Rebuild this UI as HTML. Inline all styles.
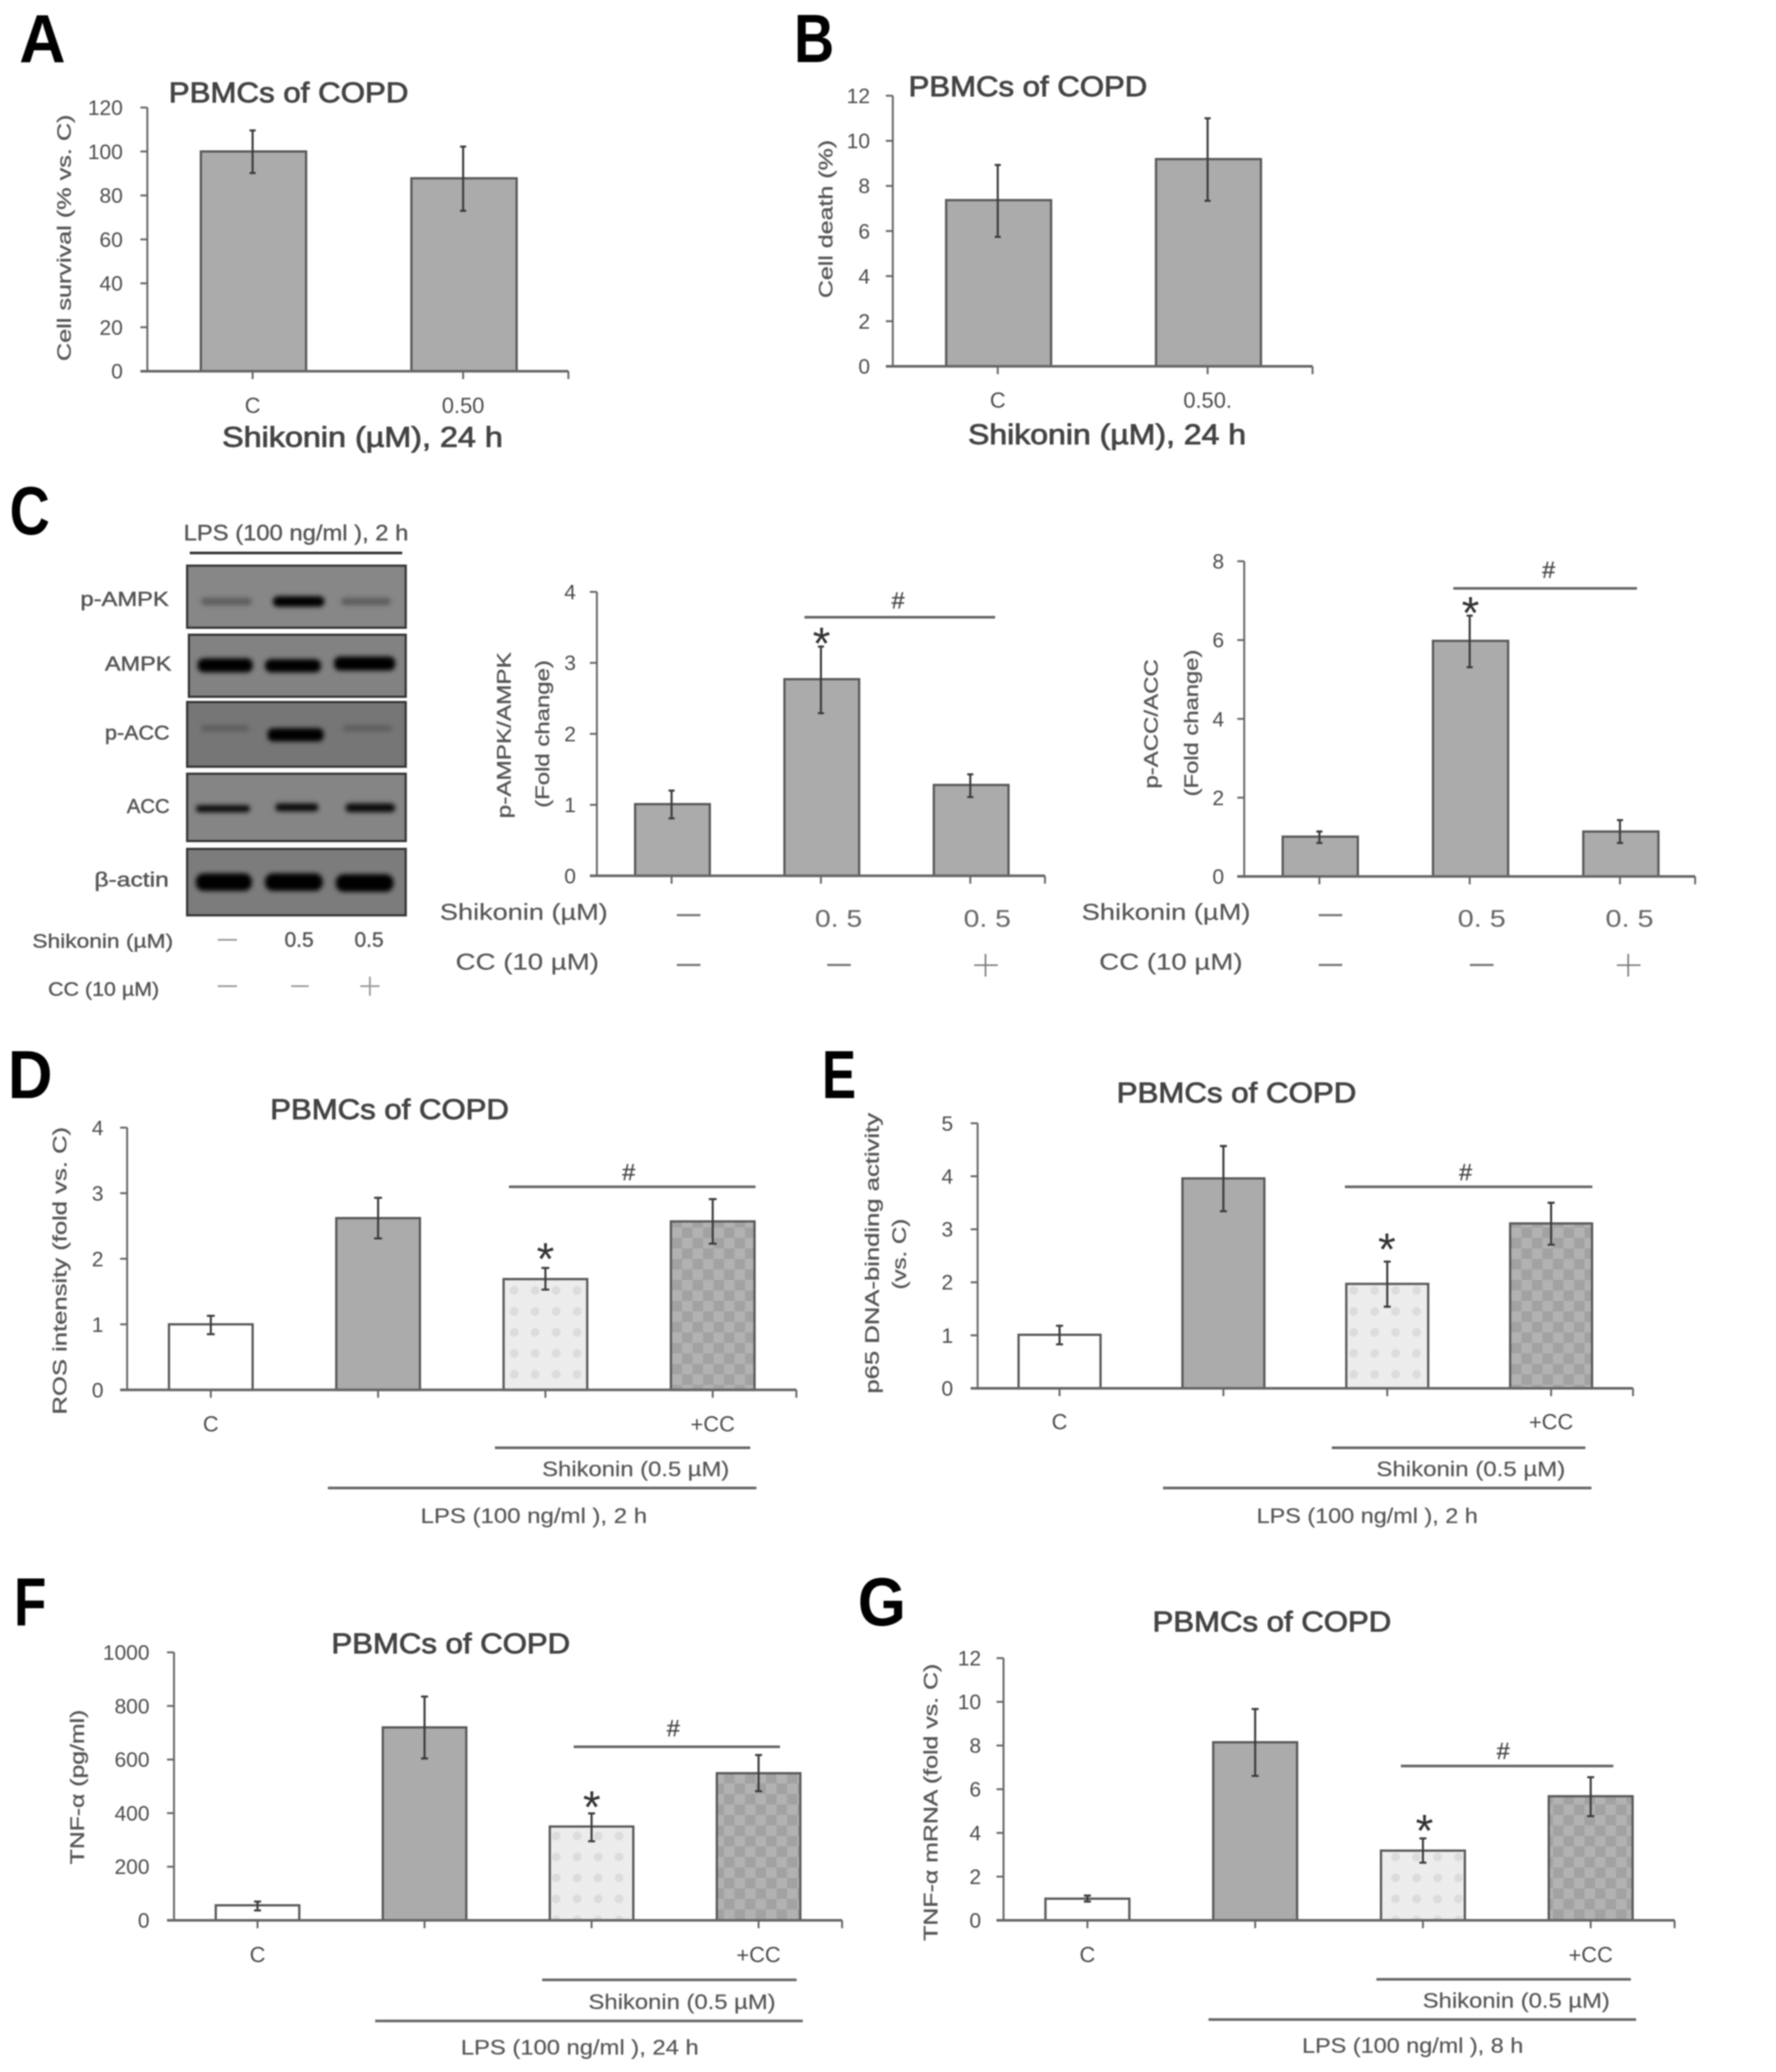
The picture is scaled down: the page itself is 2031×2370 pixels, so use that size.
<!DOCTYPE html>
<html lang="en">
<head>
<meta charset="utf-8">
<title>Shikonin effects on PBMCs of COPD</title>
<style>
html,body{margin:0;padding:0;background:#fff;}
#figure{display:block;width:2031px;height:2370px;filter:blur(.85px);font-family:"Liberation Sans",sans-serif;}
.letter{font-weight:bold;fill:#000;}
.title{font-size:32px;fill:#444;stroke:#444;stroke-width:.9px;}
.ytitle{font-size:22px;fill:#555;stroke:#555;stroke-width:.35px;}
.xtitle{font-size:32px;fill:#444;stroke:#444;stroke-width:.9px;}
.anno{font-size:24px;fill:#555;stroke:#555;stroke-width:.2px;}
.blotlab{font-size:23px;fill:#555;stroke:#555;stroke-width:.5px;}
.row{font-size:26px;fill:#555;stroke:#555;stroke-width:.2px;}
.num{font-size:28px;fill:#666;}
.band{filter:blur(2.6px);}
</style>
</head>
<body>
<svg id="figure" xmlns="http://www.w3.org/2000/svg" viewBox="0 0 2031 2370" width="2031" height="2370">
<defs>
<pattern id="dither" patternUnits="userSpaceOnUse" width="4" height="4">
<rect width="4" height="4" fill="#f2f2f2"/>
<rect width="2" height="2" fill="#e6e6e6"/>
<rect x="2" y="2" width="2" height="2" fill="#e6e6e6"/>
</pattern>
<pattern id="lightFill" patternUnits="userSpaceOnUse" width="24" height="24">
<rect width="24" height="24" fill="url(#dither)"/>
<rect x="7" y="7" width="10" height="10" rx="5" fill="#dcdcdc"/>
</pattern>
<pattern id="darkFill" patternUnits="userSpaceOnUse" width="24" height="24">
<rect width="24" height="24" fill="#b2b2b2"/>
<rect width="12" height="12" fill="#a2a2a2"/>
<rect x="12" y="12" width="12" height="12" fill="#a2a2a2"/>
</pattern>
</defs>
<rect width="2031" height="2370" fill="#fff"/>

<!-- panel letters -->
<text class="letter" x="22" y="71" font-size="78" textLength="53" lengthAdjust="spacingAndGlyphs">A</text>
<text class="letter" x="908" y="71" font-size="78" textLength="46" lengthAdjust="spacingAndGlyphs">B</text>
<text class="letter" x="11" y="611" font-size="78" textLength="46" lengthAdjust="spacingAndGlyphs">C</text>
<text class="letter" x="9" y="1256" font-size="78" textLength="51" lengthAdjust="spacingAndGlyphs">D</text>
<text class="letter" x="940" y="1256" font-size="78" textLength="39" lengthAdjust="spacingAndGlyphs">E</text>
<text class="letter" x="16" y="1859" font-size="78" textLength="37" lengthAdjust="spacingAndGlyphs">F</text>
<text class="letter" x="981" y="1859" font-size="78" textLength="55" lengthAdjust="spacingAndGlyphs">G</text>

<!-- chart titles -->
<text class="title" x="193" y="117" textLength="274" lengthAdjust="spacingAndGlyphs">PBMCs of COPD</text>
<text class="title" x="1039" y="110" textLength="273" lengthAdjust="spacingAndGlyphs">PBMCs of COPD</text>
<text class="title" x="309" y="1280" textLength="273" lengthAdjust="spacingAndGlyphs">PBMCs of COPD</text>
<text class="title" x="1277" y="1261" textLength="274" lengthAdjust="spacingAndGlyphs">PBMCs of COPD</text>
<text class="title" x="379" y="1891" textLength="273" lengthAdjust="spacingAndGlyphs">PBMCs of COPD</text>
<text class="title" x="1318" y="1866" textLength="273" lengthAdjust="spacingAndGlyphs">PBMCs of COPD</text>

<!-- y axis titles -->
<text class="ytitle" transform="translate(81,413) rotate(-90)" textLength="282" lengthAdjust="spacingAndGlyphs">Cell survival (% vs. C)</text>
<text class="ytitle" transform="translate(952,341) rotate(-90)" textLength="181" lengthAdjust="spacingAndGlyphs">Cell death (%)</text>
<text class="ytitle" transform="translate(584,936) rotate(-90)" textLength="190" lengthAdjust="spacingAndGlyphs">p-AMPK/AMPK</text>
<text class="ytitle" transform="translate(628,924) rotate(-90)" textLength="169" lengthAdjust="spacingAndGlyphs">(Fold change)</text>
<text class="ytitle" transform="translate(1324,902) rotate(-90)" textLength="148" lengthAdjust="spacingAndGlyphs">p-ACC/ACC</text>
<text class="ytitle" transform="translate(1370,911) rotate(-90)" textLength="168" lengthAdjust="spacingAndGlyphs">(Fold change)</text>
<text class="ytitle" transform="translate(76,1618) rotate(-90)" textLength="329" lengthAdjust="spacingAndGlyphs">ROS intensity (fold vs. C)</text>
<text class="ytitle" transform="translate(1005,1594) rotate(-90)" textLength="321" lengthAdjust="spacingAndGlyphs">p65 DNA-binding activity</text>
<text class="ytitle" transform="translate(1036,1475) rotate(-90)" textLength="81" lengthAdjust="spacingAndGlyphs">(vs. C)</text>
<text class="ytitle" transform="translate(96,2132.5) rotate(-90)" textLength="177" lengthAdjust="spacingAndGlyphs">TNF-α (pg/ml)</text>
<text class="ytitle" transform="translate(1072,2220) rotate(-90)" textLength="317" lengthAdjust="spacingAndGlyphs">TNF-α mRNA (fold vs. C)</text>

<!-- x titles A, B -->
<text class="xtitle" x="254" y="511" textLength="321" lengthAdjust="spacingAndGlyphs">Shikonin (µM), 24 h</text>
<text class="xtitle" x="1107" y="508" textLength="318" lengthAdjust="spacingAndGlyphs">Shikonin (µM), 24 h</text>

<!-- western blot -->
<g>
<text x="210" y="618" font-size="25" fill="#555" stroke="#555" stroke-width=".4" textLength="257" lengthAdjust="spacingAndGlyphs">LPS (100 ng/ml ), 2 h</text>
<line x1="217" x2="460" y1="632.5" y2="632.5" stroke="#333" stroke-width="3"/>

<rect x="214" y="647" width="250" height="71" fill="#878787" stroke="#333" stroke-width="2.5"/>
<rect x="216" y="726" width="248" height="71" fill="#828282" stroke="#333" stroke-width="2.5"/>
<rect x="214" y="803" width="250" height="74" fill="#767676" stroke="#333" stroke-width="2.5"/>
<rect x="214" y="885" width="250" height="77" fill="#858585" stroke="#333" stroke-width="2.5"/>
<rect x="214" y="971" width="250" height="76" fill="#7c7c7c" stroke="#333" stroke-width="2.5"/>

<g class="band">
<rect x="230" y="684" width="58" height="8" rx="4" fill="#5c5c5c"/>
<rect x="312" y="682" width="59" height="12" rx="6" fill="#000"/>
<rect x="390" y="684" width="57" height="8" rx="4" fill="#5c5c5c"/>
<rect x="226" y="753" width="63" height="16" rx="7" fill="#000"/>
<rect x="303" y="754" width="64" height="15" rx="7" fill="#000"/>
<rect x="382" y="751" width="70" height="16" rx="7" fill="#000"/>
<rect x="230" y="830" width="55" height="6" rx="3" fill="#5a5a5a"/>
<rect x="306" y="833" width="64" height="15" rx="6" fill="#000"/>
<rect x="392" y="830" width="56" height="6" rx="3" fill="#5a5a5a"/>
<rect x="224" y="921" width="62" height="8" rx="4" fill="#0a0a0a"/>
<rect x="315" y="919" width="49" height="9" rx="4" fill="#0a0a0a"/>
<rect x="395" y="919" width="57" height="10" rx="5" fill="#0a0a0a"/>
<rect x="224" y="999" width="64" height="20" rx="9" fill="#000"/>
<rect x="303" y="999" width="66" height="20" rx="9" fill="#000"/>
<rect x="384" y="1000" width="66" height="20" rx="9" fill="#000"/>
</g>

<text class="blotlab" x="92" y="693" textLength="101" lengthAdjust="spacingAndGlyphs">p-AMPK</text>
<text class="blotlab" x="120" y="767" textLength="76" lengthAdjust="spacingAndGlyphs">AMPK</text>
<text class="blotlab" x="120" y="846" textLength="74" lengthAdjust="spacingAndGlyphs">p-ACC</text>
<text class="blotlab" x="145" y="930" textLength="49" lengthAdjust="spacingAndGlyphs">ACC</text>
<text class="blotlab" x="108" y="1014" textLength="85" lengthAdjust="spacingAndGlyphs">β-actin</text>

<text x="37" y="1084" font-size="22" fill="#555" stroke="#555" stroke-width=".4" textLength="161" lengthAdjust="spacingAndGlyphs">Shikonin (µM)</text>
<text x="55" y="1139" font-size="22" fill="#555" stroke="#555" stroke-width=".4" textLength="127" lengthAdjust="spacingAndGlyphs">CC (10 µM)</text>
<line x1="249" x2="271" y1="1075" y2="1075" stroke="#999" stroke-width="2"/>
<text x="342" y="1083" font-size="24" fill="#555" stroke="#555" stroke-width=".4" text-anchor="middle">0.5</text>
<text x="422" y="1083" font-size="24" fill="#555" stroke="#555" stroke-width=".4" text-anchor="middle">0.5</text>
<line x1="249" x2="271" y1="1128" y2="1128" stroke="#999" stroke-width="2"/>
<line x1="333" x2="353" y1="1128" y2="1128" stroke="#999" stroke-width="2"/>
<path d="M412 1128H434M423 1117V1139" stroke="#999" stroke-width="2" fill="none"/>
</g>

<!-- C chart treatment rows -->
<g>
<text class="row" x="503" y="1052" textLength="192" lengthAdjust="spacingAndGlyphs">Shikonin (µM)</text>
<text class="row" x="521" y="1109" textLength="164" lengthAdjust="spacingAndGlyphs">CC (10 µM)</text>
<rect x="774" y="1045.5" width="27" height="2.5" fill="#777"/>
<text class="num" x="932" y="1060" textLength="54" lengthAdjust="spacingAndGlyphs">0. 5</text>
<text class="num" x="1102" y="1060" textLength="54" lengthAdjust="spacingAndGlyphs">0. 5</text>
<rect x="774" y="1102.5" width="27" height="2.5" fill="#777"/>
<rect x="946" y="1102.5" width="27" height="2.5" fill="#777"/>
<path d="M1114 1104H1141M1127 1091V1117" stroke="#777" stroke-width="1.8" fill="none"/>
</g>
<g>
<text class="row" x="1237" y="1052" textLength="193" lengthAdjust="spacingAndGlyphs">Shikonin (µM)</text>
<text class="row" x="1257" y="1109" textLength="164" lengthAdjust="spacingAndGlyphs">CC (10 µM)</text>
<rect x="1508" y="1045.5" width="27" height="2.5" fill="#777"/>
<text class="num" x="1667" y="1060" textLength="55" lengthAdjust="spacingAndGlyphs">0. 5</text>
<text class="num" x="1836" y="1060" textLength="55" lengthAdjust="spacingAndGlyphs">0. 5</text>
<rect x="1508" y="1102.5" width="27" height="2.5" fill="#777"/>
<rect x="1681" y="1102.5" width="27" height="2.5" fill="#777"/>
<path d="M1849 1104H1876M1862 1091V1117" stroke="#777" stroke-width="1.8" fill="none"/>
</g>

<!-- D, E, F, G treatment lines -->
<g stroke="#666" stroke-width="3">
<line x1="566" x2="858" y1="1656" y2="1656"/>
<line x1="375" x2="865" y1="1702" y2="1702"/>
<line x1="1523" x2="1813" y1="1656" y2="1656"/>
<line x1="1330" x2="1820" y1="1702" y2="1702"/>
<line x1="620" x2="911" y1="2264.6" y2="2264.6"/>
<line x1="429" x2="918" y1="2311.6" y2="2311.6"/>
<line x1="1574" x2="1865" y1="2264" y2="2264"/>
<line x1="1382" x2="1871" y1="2310" y2="2310"/>
</g>
<text class="anno" x="620" y="1688.5" textLength="214" lengthAdjust="spacingAndGlyphs">Shikonin (0.5 µM)</text>
<text class="anno" x="481" y="1742" textLength="259" lengthAdjust="spacingAndGlyphs">LPS (100 ng/ml ), 2 h</text>
<text class="anno" x="1574" y="1688.5" textLength="216" lengthAdjust="spacingAndGlyphs">Shikonin (0.5 µM)</text>
<text class="anno" x="1437" y="1742" textLength="253" lengthAdjust="spacingAndGlyphs">LPS (100 ng/ml ), 2 h</text>
<text class="anno" x="673" y="2298" textLength="214" lengthAdjust="spacingAndGlyphs">Shikonin (0.5 µM)</text>
<text class="anno" x="527" y="2350" textLength="272" lengthAdjust="spacingAndGlyphs">LPS (100 ng/ml ), 24 h</text>
<text class="anno" x="1627" y="2296.6" textLength="214" lengthAdjust="spacingAndGlyphs">Shikonin (0.5 µM)</text>
<text class="anno" x="1489" y="2348" textLength="253" lengthAdjust="spacingAndGlyphs">LPS (100 ng/ml ), 8 h</text>

<!-- significance brackets and symbols -->
<g stroke="#666" stroke-width="3">
<line x1="920" x2="1138" y1="706" y2="706"/>
<line x1="1662" x2="1872" y1="673" y2="673"/>
<line x1="582" x2="864" y1="1357.5" y2="1357.5"/>
<line x1="1538" x2="1821" y1="1357.5" y2="1357.5"/>
<line x1="656" x2="892" y1="1998" y2="1998"/>
<line x1="1602" x2="1845" y1="2020" y2="2020"/>
</g>
<g font-size="27" fill="#444" stroke="#444" stroke-width=".3" text-anchor="middle">
<text x="1027" y="696">#</text>
<text x="1771" y="661">#</text>
<text x="719" y="1350">#</text>
<text x="1676" y="1350">#</text>
<text x="770" y="1986">#</text>
<text x="1719" y="2012">#</text>
</g>
<g font-size="52" fill="#333" text-anchor="middle">
<text x="939.5" y="754">*</text>
<text x="1681.6" y="719">*</text>
<text x="623.7" y="1458">*</text>
<text x="1586" y="1447">*</text>
<text x="676.7" y="2085">*</text>
<text x="1629" y="2112">*</text>
</g>

<g id="charts"></g>
</svg>

<script>
// Panel A
const categoriesA = ['C', '0.50'];
const valuesA = [100, 87.8];
const upperA = [109.6, 102.2];
const lowerA = [90.2, 73];
const ticksA = [0, 20, 40, 60, 80, 100, 120];
// Panel B
const categoriesB = ['C', '0.50.'];
const valuesB = [7.37, 9.19];
const upperB = [8.93, 11.0];
const lowerB = [5.74, 7.34];
const ticksB = [0, 2, 4, 6, 8, 10, 12];
// Panel C, p-AMPK/AMPK
const categoriesC1 = ['', '', ''];
const valuesC1 = [1.01, 2.77, 1.28];
const upperC1 = [1.2, 3.23, 1.43];
const lowerC1 = [0.81, 2.29, 1.11];
const ticksC1 = [0, 1, 2, 3, 4];
// Panel C, p-ACC/ACC
const categoriesC2 = ['', '', ''];
const valuesC2 = [1.01, 5.98, 1.14];
const upperC2 = [1.14, 6.62, 1.43];
const lowerC2 = [0.85, 5.31, 0.85];
const ticksC2 = [0, 2, 4, 6, 8];
// Panel D
const categoriesD = ['C', '', '', '+CC'];
const valuesD = [1.0, 2.62, 1.69, 2.57];
const upperD = [1.13, 2.93, 1.86, 2.91];
const lowerD = [0.85, 2.31, 1.53, 2.23];
const ticksD = [0, 1, 2, 3, 4];
// Panel E
const categoriesE = ['C', '', '', '+CC'];
const valuesE = [1.01, 3.96, 1.97, 3.11];
const upperE = [1.18, 4.57, 2.39, 3.5];
const lowerE = [0.83, 3.34, 1.54, 2.71];
const ticksE = [0, 1, 2, 3, 4, 5];
// Panel F
const categoriesF = ['C', '', '', '+CC'];
const valuesF = [56, 720, 350, 549];
const upperF = [70, 835, 399, 617];
const lowerF = [37, 604, 295, 482];
const ticksF = [0, 200, 400, 600, 800, 1000];
// Panel G
const categoriesG = ['C', '', '', '+CC'];
const valuesG = [0.99, 8.15, 3.19, 5.68];
const upperG = [1.13, 9.67, 3.75, 6.55];
const lowerG = [0.86, 6.61, 2.64, 4.77];
const ticksG = [0, 2, 4, 6, 8, 10, 12];

const SVG_NS = 'http://www.w3.org/2000/svg';
const root = document.getElementById('charts');

function make(parent, tag, attrs, text) {
  const el = document.createElementNS(SVG_NS, tag);
  for (const k in attrs) el.setAttribute(k, attrs[k]);
  if (text !== undefined) el.textContent = text;
  parent.appendChild(el);
  return el;
}

function barFill(count, i, mono) {
  if (mono) return '#ababab';
  if (count === 4) return ['#ffffff', '#ababab', 'url(#lightFill)', 'url(#darkFill)'][i];
  return '#ababab';
}

function drawChart(cfg) {
  const g = make(root, 'g', {});
  
  

  const maxTick = cfg.ticks[cfg.ticks.length - 1];
  const yScale = function (v) { return cfg.y0 - v * (cfg.y0 - cfg.yTop) / maxTick; };
  const step = (cfg.xRight - cfg.xLeft) / cfg.values.length;
  const xScale = function (i) { return cfg.xLeft + (i + 0.5) * step; };
  const barWidth = step * 0.5;
  const shift = cfg.shift || 0;

  cfg.values.forEach(function (v, i) {
    const bar = make(g, 'rect', {
      x: xScale(i) - barWidth / 2 + shift, y: yScale(v),
      width: barWidth, height: cfg.y0 - yScale(v),
      fill: barFill(cfg.values.length, i, cfg.mono), stroke: '#585858', 'stroke-width': 2.6
    });
    
    
  });

  cfg.values.forEach(function (v, i) {
    const cx = xScale(i);
    const yU = yScale(cfg.upper[i]);
    const yL = yScale(cfg.lower[i]);
    const err = make(g, 'path', {
      d: 'M' + (cx - cfg.cap) + ' ' + yU + 'H' + (cx + cfg.cap) +
         'M' + cx + ' ' + yU + 'V' + yL +
         'M' + (cx - cfg.cap) + ' ' + yL + 'H' + (cx + cfg.cap),
      stroke: '#3c3c3c', 'stroke-width': 2.4, fill: 'none'
    });
    
    
  });

  const yAxis = make(g, 'line', {
    x1: cfg.xLeft, x2: cfg.xLeft, y1: cfg.yTop, y2: cfg.y0, stroke: '#666', 'stroke-width': 2.2
  });
  
  

  const xAxis = make(g, 'line', {
    x1: cfg.xLeft - 8, x2: cfg.xRight, y1: cfg.y0, y2: cfg.y0, stroke: '#666', 'stroke-width': 3
  });
  
  

  cfg.ticks.forEach(function (t) {
    const y = yScale(t);
    const tick = make(g, 'line', {
      x1: cfg.xLeft - 8, x2: cfg.xLeft, y1: y, y2: y, stroke: '#666', 'stroke-width': 2.2
    });
    
    
    const label = make(g, 'text', {
      x: cfg.xLeft - cfg.gap, y: y + 8.5, 'font-size': cfg.tickSize || 24, fill: '#4c4c4c', 'text-anchor': 'end'
    }, String(t));
    
    
  });

  cfg.categories.forEach(function (c, i) {
    const cx = xScale(i);
    const tick = make(g, 'line', {
      x1: cx, x2: cx, y1: cfg.y0, y2: cfg.y0 + 9, stroke: '#666', 'stroke-width': 2.2
    });
    
    
    if (c) {
      const label = make(g, 'text', {
        x: cx, y: cfg.catY, 'font-size': 25, fill: '#4c4c4c', 'text-anchor': 'middle'
      }, c);
      
      
    }
  });

  const endTick = make(g, 'line', {
    x1: cfg.xRight, x2: cfg.xRight, y1: cfg.y0, y2: cfg.y0 + 9, stroke: '#666', 'stroke-width': 2.2
  });
  
  
}

drawChart({ id: 'a', categories: categoriesA, values: valuesA, upper: upperA, lower: lowerA, ticks: ticksA,
  xLeft: 168.5, xRight: 650, yTop: 123, y0: 424.6, gap: 28, cap: 3.5, catY: 472.5, mono: true, shift: 1 });
drawChart({ id: 'b', categories: categoriesB, values: valuesB, upper: upperB, lower: lowerB, ticks: ticksB,
  xLeft: 1021, xRight: 1501, yTop: 109.5, y0: 419, gap: 26, cap: 3.5, catY: 466.5, mono: true, shift: 1 });
drawChart({ id: 'c1', categories: categoriesC1, values: valuesC1, upper: upperC1, lower: lowerC1, ticks: ticksC1,
  xLeft: 682.6, xRight: 1195, yTop: 677, y0: 1001.8, gap: 24, cap: 3.5, catY: 0, mono: true, shift: 1 });
drawChart({ id: 'c2', categories: categoriesC2, values: valuesC2, upper: upperC2, lower: lowerC2, ticks: ticksC2,
  xLeft: 1422.9, xRight: 1938.5, yTop: 642, y0: 1002.5, gap: 23, cap: 3.5, catY: 0, mono: true, shift: 1 });
drawChart({ id: 'd', categories: categoriesD, values: valuesD, upper: upperD, lower: lowerD, ticks: ticksD,
  xLeft: 145.4, xRight: 910.7, yTop: 1289.8, y0: 1589.8, gap: 27, cap: 4.5, catY: 1637.5 });
drawChart({ id: 'e', categories: categoriesE, values: valuesE, upper: upperE, lower: lowerE, ticks: ticksE,
  xLeft: 1118, xRight: 1867.5, yTop: 1284.8, y0: 1588, gap: 28, cap: 4, catY: 1635 });
drawChart({ id: 'f', categories: categoriesF, values: valuesF, upper: upperF, lower: lowerF, ticks: ticksF,
  xLeft: 199, xRight: 963, yTop: 1890, y0: 2196.5, gap: 28, cap: 4, catY: 2244.5 });
drawChart({ id: 'g', categories: categoriesG, values: valuesG, upper: upperG, lower: lowerG, ticks: ticksG,
  xLeft: 1147.6, xRight: 1915, yTop: 1896.6, y0: 2196.5, gap: 25.6, cap: 4, catY: 2244.5 });
</script>
</body>
</html>
